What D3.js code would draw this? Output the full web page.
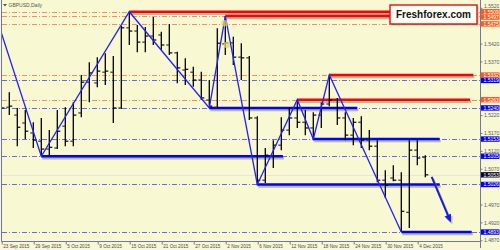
<!DOCTYPE html>
<html>
<head>
<meta charset="utf-8">
<script src="https://cdn.jsdelivr.net/npm/d3@7"></script>
<style>
    html, body { margin: 0; padding: 0; background: #f8f8d2; }
    svg { display: block; font-family: "Liberation Sans", Arial, sans-serif; }
</style>
</head>
<body>
<div id="chart"></div>
<script>
// GBPUSD daily, 23 Sep - 7 Dec 2015, one entry per trading day
var tickDates = ["23 Sep 2015", "29 Sep 2015", "5 Oct 2015", "9 Oct 2015", "15 Oct 2015", "21 Oct 2015",
    "27 Oct 2015", "2 Nov 2015", "6 Nov 2015", "12 Nov 2015", "18 Nov 2015", "24 Nov 2015", "30 Nov 2015", "4 Dec 2015"];

var opens = [1.5273, 1.5242, 1.5220, 1.5198, 1.5170, 1.5147, 1.5125, 1.5128, 1.5189, 1.5147,
    1.5226, 1.5312, 1.5310, 1.5340, 1.5340, 1.5240, 1.5464, 1.5455, 1.5424, 1.5441,
    1.5444, 1.5416, 1.5394, 1.5346, 1.5340, 1.5318, 1.5262, 1.5242, 1.5419, 1.5422,
    1.5382, 1.5380, 1.5212, 1.5038, 1.5105, 1.5136, 1.5178, 1.5212, 1.5200, 1.5184,
    1.5220, 1.5251, 1.5262, 1.5212, 1.5164, 1.5200, 1.5150, 1.5133, 1.5038, 1.5044,
    1.5038, 1.4948, 1.5122, 1.5102];
var highs = [1.5284, 1.5284, 1.5240, 1.5234, 1.5200, 1.5212, 1.5178, 1.5234, 1.5242, 1.5256,
    1.5332, 1.5368, 1.5382, 1.5393, 1.5385, 1.5469, 1.5509, 1.5472, 1.5466, 1.5494,
    1.5453, 1.5475, 1.5397, 1.5379, 1.5355, 1.5341, 1.5318, 1.5463, 1.5497, 1.5439,
    1.5421, 1.5385, 1.5217, 1.5128, 1.5150, 1.5214, 1.5242, 1.5263, 1.5234, 1.5228,
    1.5255, 1.5332, 1.5268, 1.5228, 1.5212, 1.5217, 1.5178, 1.5150, 1.5066, 1.5080,
    1.5060, 1.5150, 1.5150, 1.5108];
var lows = [1.5212, 1.5220, 1.5133, 1.5153, 1.5128, 1.5105, 1.5108, 1.5125, 1.5133, 1.5133,
    1.5214, 1.5256, 1.5298, 1.5304, 1.5198, 1.5237, 1.5416, 1.5396, 1.5396, 1.5416,
    1.5402, 1.5388, 1.5309, 1.5304, 1.5299, 1.5262, 1.5240, 1.5240, 1.5388, 1.5360,
    1.5318, 1.5206, 1.5026, 1.5030, 1.5072, 1.5122, 1.5164, 1.5184, 1.5164, 1.5153,
    1.5184, 1.5245, 1.5192, 1.5150, 1.5136, 1.5128, 1.5122, 1.5032, 1.4988, 1.5035,
    1.4893, 1.4904, 1.5080, 1.5046];
var closes = [1.5240, 1.5245, 1.5186, 1.5175, 1.5150, 1.5125, 1.5130, 1.5175, 1.5147, 1.5220,
    1.5312, 1.5338, 1.5343, 1.5343, 1.5240, 1.5464, 1.5455, 1.5424, 1.5441, 1.5430,
    1.5416, 1.5394, 1.5352, 1.5348, 1.5318, 1.5268, 1.5245, 1.5421, 1.5422, 1.5382,
    1.5380, 1.5212, 1.5038, 1.5108, 1.5136, 1.5178, 1.5212, 1.5200, 1.5184, 1.5220,
    1.5251, 1.5262, 1.5212, 1.5164, 1.5200, 1.5150, 1.5133, 1.5038, 1.5024, 1.5038,
    1.4951, 1.5122, 1.5100, 1.5053];

// zigzag swing points (bar index, price)
var zigzagIndex = [-3, 5, 16, 26, 28, 32, 37, 39, 41, 50];
var zigzagPrice = [1.5658, 1.5105, 1.5509, 1.5240, 1.5497, 1.5026, 1.5263, 1.5153, 1.5332, 1.4893];

// resistance (red) and support (blue) segments: price, first bar, last bar
var resistancePrice = [1.5509, 1.5497, 1.5332, 1.5263];
var resistanceFrom = [16, 28, 41, 37];
var resistanceTo = [57, 57, 59, 58.6];
var supportPrice = [1.5105, 1.5240, 1.5153, 1.5026, 1.4893];
var supportFrom = [5, 26, 39, 32, 50];
var supportTo = [35.2, 44.5, 54.8, 54.8, 58.8];

// dash-dot price levels drawn across the whole chart
var orangeLevels = [1.5509, 1.5497, 1.5475, 1.5332, 1.5263];
var blueLevels = [1.5319, 1.5240, 1.5153, 1.5105, 1.5026, 1.4893];
var lastPrice = 1.5053;

var priceTicks = d3.range(0, 14).map(function(k) { return +(1.4870 + k * 0.005).toFixed(4); });

var arrowIndex = [53.8, 56.2];
var arrowPrice = [1.5047, 1.4920];
var markerIndex = [27.9, 28.2];
var markerPrice = [1.5477, 1.5416];

(function(d3) {
    "use strict";
    var bg = "#f8f8d2";
    var frameColor = "#7474a4";
    var plotRight = 480, plotBottom = 241;
    var tagHeight = 5.4;

    var x = d3.scaleLinear().domain([0, 53]).range([1.3, 425.3]);
    var y = d3.scaleLinear().domain([1.4868, 1.5539]).range([241, 1]);
    var fmt = d3.format(".4f");

    var svg = d3.select("#chart")
        .append("svg")
        .attr("width", 500)
        .attr("height", 250);

    svg.append("rect")
        .attr("width", 500)
        .attr("height", 250)
        .attr("fill", bg);

    svg.append("clipPath")
        .attr("id", "plotClip")
        .append("rect")
        .attr("x", 2)
        .attr("y", 0)
        .attr("width", plotRight - 2)
        .attr("height", plotBottom);

    var plot = svg.append("g").attr("clip-path", "url(#plotClip)");

    function py(p) {
        return Math.round(y(p)) + 0.5;
    }

    // current price line
    plot.append("line")
        .attr("x1", 2).attr("x2", plotRight)
        .attr("y1", py(lastPrice)).attr("y2", py(lastPrice))
        .attr("stroke", "#e6e6d6")
        .attr("stroke-width", 1);

    // dash-dot levels
    function drawLevels(levels, color) {
        plot.append("g")
            .selectAll("line")
            .data(levels)
            .enter()
            .append("line")
            .attr("x1", 2).attr("x2", plotRight)
            .attr("y1", function(d) { return py(d); })
            .attr("y2", function(d) { return py(d); })
            .attr("stroke", color)
            .attr("stroke-width", 1)
            .attr("stroke-dasharray", "5,2,1,2");
    }
    drawLevels(orangeLevels, "#f59060");
    drawLevels(blueLevels, "#6a6ae0");

    // thick support / resistance lines with their shadow
    function drawSegments(prices, from, to, color) {
        var segs = prices.map(function(p, i) { return { p: p, a: from[i], b: to[i] }; });
        plot.append("g")
            .selectAll("line")
            .data(segs)
            .enter()
            .append("line")
            .attr("x1", function(d) { return x(d.a) + 1; })
            .attr("x2", function(d) { return x(d.b) + 1; })
            .attr("y1", function(d) { return y(d.p) + 2; })
            .attr("y2", function(d) { return y(d.p) + 2; })
            .attr("stroke", "#9c9c88")
            .attr("stroke-opacity", 0.7)
            .attr("stroke-width", 2.5);
        plot.append("g")
            .selectAll("line")
            .data(segs)
            .enter()
            .append("line")
            .attr("x1", function(d) { return x(d.a); })
            .attr("x2", function(d) { return x(d.b); })
            .attr("y1", function(d) { return y(d.p); })
            .attr("y2", function(d) { return y(d.p); })
            .attr("stroke", color)
            .attr("stroke-width", 2.4);
    }
    drawSegments(supportPrice, supportFrom, supportTo, "#0000ff");
    drawSegments(resistancePrice, resistanceFrom, resistanceTo, "#ff0000");

    // OHLC bars
    var bars = plot.append("g")
        .selectAll("g")
        .data(d3.range(opens.length))
        .enter()
        .append("g");
    bars.append("line")
        .attr("x1", function(i) { return x(i); })
        .attr("x2", function(i) { return x(i); })
        .attr("y1", function(i) { return y(highs[i]); })
        .attr("y2", function(i) { return y(lows[i]); })
        .attr("stroke", "#000")
        .attr("stroke-width", 1.3);
    bars.append("line")
        .attr("x1", function(i) { return x(i) - 3; })
        .attr("x2", function(i) { return x(i); })
        .attr("y1", function(i) { return y(opens[i]); })
        .attr("y2", function(i) { return y(opens[i]); })
        .attr("stroke", "#333")
        .attr("stroke-width", 1.2);
    bars.append("line")
        .attr("x1", function(i) { return x(i); })
        .attr("x2", function(i) { return x(i) + 3; })
        .attr("y1", function(i) { return y(closes[i]); })
        .attr("y2", function(i) { return y(closes[i]); })
        .attr("stroke", "#000")
        .attr("stroke-width", 1.2);

    // zigzag
    plot.append("path")
        .datum(d3.zip(zigzagIndex, zigzagPrice))
        .attr("d", d3.line()
            .x(function(d) { return x(d[0]); })
            .y(function(d) { return y(d[1]); }))
        .attr("fill", "none")
        .attr("stroke", "#2020ff")
        .attr("stroke-width", 1.3);

    // fractal markers
    plot.append("g")
        .selectAll("circle")
        .data(d3.zip(markerIndex, markerPrice))
        .enter()
        .append("circle")
        .attr("cx", function(d) { return x(d[0]); })
        .attr("cy", function(d) { return y(d[1]); })
        .attr("r", 3.2)
        .attr("fill", "#e6d660")
        .attr("fill-opacity", 0.75);

    // forecast arrow
    var ax1 = x(arrowIndex[0]), ay1 = y(arrowPrice[0]);
    var ax2 = x(arrowIndex[1]), ay2 = y(arrowPrice[1]);
    var ang = Math.atan2(ay2 - ay1, ax2 - ax1);
    function head(dx, dy) {
        var hl = 8, hw = 3.5;
        var bx = ax2 - hl * Math.cos(ang) + dx, by = ay2 - hl * Math.sin(ang) + dy;
        return [[ax2 + dx, ay2 + dy],
            [bx - hw * Math.sin(ang), by + hw * Math.cos(ang)],
            [bx + hw * Math.sin(ang), by - hw * Math.cos(ang)]];
    }
    [[1.5, 2, "#a0a090", 0.6], [0, 0, "#1818e8", 1]].forEach(function(s) {
        plot.append("line")
            .attr("x1", ax1 + s[0]).attr("y1", ay1 + s[1])
            .attr("x2", ax2 - 6 * Math.cos(ang) + s[0]).attr("y2", ay2 - 6 * Math.sin(ang) + s[1])
            .attr("stroke", s[2])
            .attr("stroke-opacity", s[3])
            .attr("stroke-width", 2);
        plot.append("polygon")
            .attr("points", head(s[0], s[1]).map(function(p) { return p.join(","); }).join(" "))
            .attr("fill", s[2])
            .attr("fill-opacity", s[3]);
    });

    // frame
    svg.append("line").attr("x1", 1.5).attr("x2", 1.5).attr("y1", 0).attr("y2", plotBottom + 0.5)
        .attr("stroke", frameColor);
    svg.append("line").attr("x1", 1.5).attr("x2", plotRight + 0.5).attr("y1", plotBottom + 0.5).attr("y2", plotBottom + 0.5)
        .attr("stroke", frameColor);

    // level tags, pushed apart so they do not sit on each other
    var tags = [];
    orangeLevels.forEach(function(p) { tags.push({ p: p, fill: "#ff5a1e" }); });
    blueLevels.forEach(function(p) { tags.push({ p: p, fill: "#0000ff" }); });
    tags.push({ p: lastPrice, fill: "#0a0a30" });
    tags.sort(function(a, b) { return y(a.p) - y(b.p); });
    tags.forEach(function(t, i) {
        t.ty = y(t.p);
        if (i > 0 && t.ty < tags[i - 1].ty + tagHeight) {
            t.ty = tags[i - 1].ty + tagHeight;
        }
    });

    // price axis
    var shownTicks = priceTicks.filter(function(t) {
        return tags.every(function(l) { return Math.abs(y(t) - y(l.p)) > 3; });
    });
    var yAxis = svg.append("g")
        .attr("transform", "translate(" + (plotRight + 0.5) + ",0)")
        .call(d3.axisRight(y)
            .tickValues(shownTicks)
            .tickSize(2)
            .tickPadding(1.5)
            .tickFormat(fmt));
    yAxis.select(".domain").attr("d", "M0,0V248").attr("stroke", frameColor);
    yAxis.selectAll(".tick line").attr("stroke", frameColor);
    yAxis.selectAll("text")
        .attr("font-size", 5)
        .attr("font-family", "Liberation Sans, Arial, sans-serif")
        .attr("fill", "#5a5a6a")
        .attr("y", function(t) {
            var shift = 0;
            tags.forEach(function(l) {
                var d = y(t) - l.ty;
                if (Math.abs(d) < tagHeight) {
                    shift = d < 0 ? -(tagHeight + d) : tagHeight - d;
                }
            });
            return shift;
        });

    var tag = svg.append("g")
        .selectAll("g")
        .data(tags)
        .enter()
        .append("g")
        .attr("transform", function(d) { return "translate(" + (plotRight + 1) + "," + d.ty + ")"; });
    tag.append("rect")
        .attr("x", 0).attr("y", -tagHeight / 2)
        .attr("width", 18.5).attr("height", tagHeight)
        .attr("fill", function(d) { return d.fill; });
    tag.append("text")
        .attr("x", 2.5).attr("y", 1.8)
        .attr("font-size", 5)
        .attr("fill", "#ffffff")
        .text(function(d) { return fmt(d.p); });

    // time axis
    var xAxis = svg.append("g")
        .attr("transform", "translate(0," + (plotBottom + 0.5) + ")")
        .call(d3.axisBottom(x)
            .tickValues(d3.range(0, 53, 4))
            .tickSize(3)
            .tickFormat(function(d, i) { return tickDates[i]; }));
    xAxis.select(".domain").remove();
    xAxis.selectAll(".tick line").attr("stroke", frameColor).attr("transform", "translate(0.4,0)");
    xAxis.selectAll("text")
        .attr("text-anchor", "start")
        .attr("x", 1.5)
        .attr("y", 3)
        .attr("dy", "0.71em")
        .attr("font-size", 4.6)
        .attr("font-family", "Liberation Sans, Arial, sans-serif")
        .attr("fill", "#46465a");

    // title
    svg.append("path")
        .attr("d", "M3,4 L7,4 L5,6.5 Z")
        .attr("fill", "#555");
    svg.append("text")
        .attr("x", 8.5).attr("y", 7)
        .attr("font-size", 5)
        .attr("fill", "#555")
        .text("GBPUSD,Daily");

    // logo
    svg.append("rect")
        .attr("x", 391.5).attr("y", 6.5)
        .attr("width", 87).attr("height", 19)
        .attr("fill", "#8a8a7a").attr("fill-opacity", 0.5);
    svg.append("rect")
        .attr("x", 390).attr("y", 5)
        .attr("width", 87).attr("height", 19)
        .attr("fill", "#fffff6")
        .attr("stroke", "#e01010")
        .attr("stroke-width", 1.4);
    svg.append("text")
        .attr("x", 433.5).attr("y", 18.3)
        .attr("text-anchor", "middle")
        .attr("font-size", 10)
        .attr("font-weight", "bold")
        .attr("fill", "#111")
        .text("Freshforex.com");
})(window.d3);
</script>
</body>
</html>
